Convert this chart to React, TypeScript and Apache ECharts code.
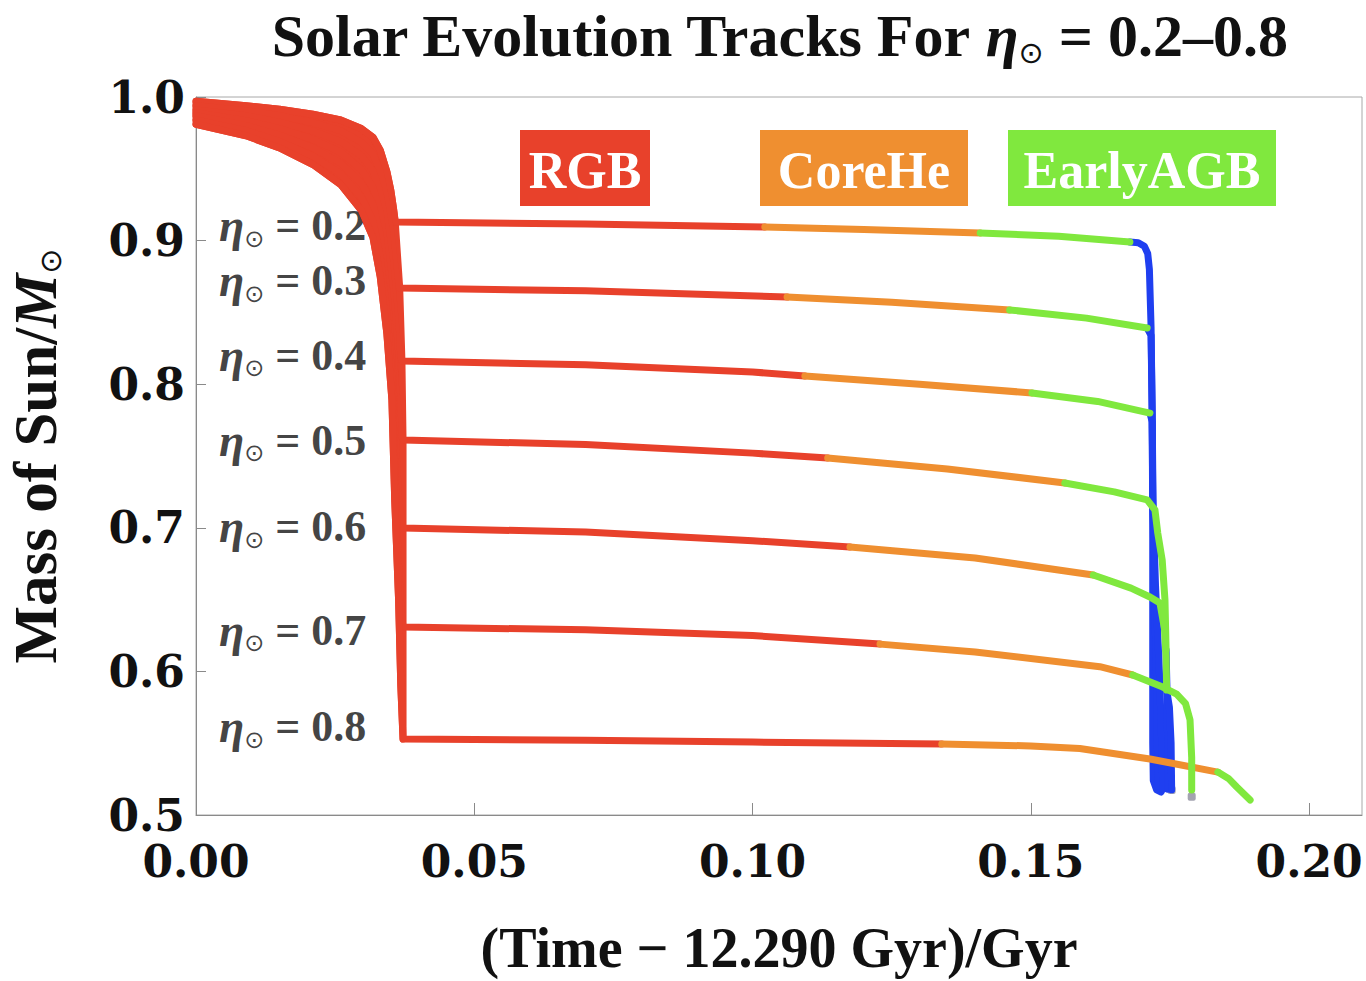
import React, { useEffect, useRef } from 'react';
import * as echarts from 'echarts';

// ---------- data ----------
const ETA = ['0.2', '0.3', '0.4', '0.5', '0.6', '0.7', '0.8'];

// RGB phase (main sequence + red giant branch + post-flash plateau), [time, mass]
const rgb02 = [[0, 0.997], [0.009, 0.994], [0.015, 0.9915], [0.021, 0.988], [0.026, 0.984], [0.0297, 0.978], [0.0318, 0.972], [0.0331, 0.963], [0.0343, 0.948], [0.035, 0.935], [0.0355, 0.922], [0.0358, 0.913], [0.07, 0.9115], [0.1022, 0.9095]];
const rgb03 = [[0, 0.994], [0.009, 0.9905], [0.015, 0.987], [0.021, 0.9822], [0.026, 0.9765], [0.0297, 0.9685], [0.0318, 0.9603], [0.0331, 0.948], [0.0343, 0.925], [0.0352, 0.9], [0.0358, 0.88], [0.0366, 0.867], [0.07, 0.865], [0.1062, 0.8607]];
const rgb04 = [[0, 0.991], [0.009, 0.987], [0.015, 0.9825], [0.021, 0.9763], [0.026, 0.969], [0.0297, 0.959], [0.0318, 0.9487], [0.0331, 0.933], [0.0343, 0.905], [0.0352, 0.87], [0.036, 0.835], [0.0366, 0.822], [0.037, 0.8162], [0.07, 0.8135], [0.1, 0.8085], [0.1094, 0.8057]];
const rgb05 = [[0, 0.989], [0.009, 0.9835], [0.015, 0.978], [0.021, 0.9705], [0.026, 0.9615], [0.0297, 0.9495], [0.0318, 0.937], [0.0331, 0.919], [0.0343, 0.885], [0.0352, 0.845], [0.0358, 0.8], [0.0366, 0.772], [0.0372, 0.7611], [0.07, 0.758], [0.1, 0.752], [0.1135, 0.7486]];
const rgb06 = [[0, 0.987], [0.009, 0.98], [0.015, 0.9735], [0.021, 0.9647], [0.026, 0.954], [0.0297, 0.94], [0.0318, 0.9253], [0.0331, 0.904], [0.0343, 0.865], [0.0352, 0.82], [0.0358, 0.765], [0.0364, 0.72], [0.0372, 0.6999], [0.07, 0.697], [0.1, 0.691], [0.1175, 0.6866]];
const rgb07 = [[0, 0.984], [0.009, 0.9765], [0.015, 0.969], [0.021, 0.9588], [0.026, 0.9465], [0.0297, 0.9305], [0.0318, 0.9137], [0.0331, 0.889], [0.0343, 0.85], [0.0352, 0.805], [0.0357, 0.745], [0.0363, 0.68], [0.0368, 0.645], [0.0372, 0.6309], [0.07, 0.629], [0.1, 0.625], [0.1229, 0.619]];
const rgb08 = [[0, 0.981], [0.009, 0.973], [0.015, 0.9645], [0.021, 0.953], [0.026, 0.939], [0.0297, 0.921], [0.0318, 0.902], [0.0331, 0.875], [0.0343, 0.835], [0.0352, 0.789], [0.0357, 0.72], [0.0364, 0.65], [0.0368, 0.59], [0.0372, 0.5529], [0.07, 0.552], [0.1, 0.5508], [0.134, 0.5494]];
// index (in each rgb array) where the flat post-flash plateau begins
const TIP_INDEX = [11, 11, 12, 12, 12, 13, 13];

// Core helium burning phase
const core02 = [[0.1022, 0.9095], [0.12, 0.9078], [0.1409, 0.9053]];
const core03 = [[0.1062, 0.8607], [0.125, 0.857], [0.1462, 0.8517]];
const core04 = [[0.1094, 0.8057], [0.13, 0.8], [0.1502, 0.7939]];
const core05 = [[0.1135, 0.7486], [0.135, 0.741], [0.1561, 0.7312]];
const core06 = [[0.1175, 0.6866], [0.14, 0.679], [0.1612, 0.6671]];
const core07 = [[0.1229, 0.619], [0.14, 0.6135], [0.1624, 0.6033], [0.1683, 0.5975]];
const core08 = [[0.134, 0.5494], [0.15, 0.5481], [0.1588, 0.5463], [0.1714, 0.539], [0.1836, 0.5299]];

// Early AGB phase
const eagb02 = [[0.1409, 0.9053], [0.155, 0.903], [0.1678, 0.899]];
const eagb03 = [[0.1462, 0.8517], [0.16, 0.846], [0.1709, 0.8391]];
const eagb04 = [[0.1502, 0.7939], [0.162, 0.788], [0.1714, 0.7799]];
const eagb05 = [[0.1561, 0.7312], [0.165, 0.725], [0.1709, 0.7194], [0.1723, 0.7124], [0.1728, 0.6964], [0.1736, 0.6776], [0.1741, 0.6497], [0.1743, 0.6149]];
const eagb06 = [[0.1612, 0.6671], [0.168, 0.658], [0.1714, 0.6518], [0.1732, 0.6476], [0.174, 0.63], [0.1743, 0.61], [0.1744, 0.587]];
const eagb07 = [[0.1683, 0.5975], [0.1737, 0.5891], [0.1762, 0.5842], [0.1778, 0.5775], [0.1786, 0.5662], [0.1789, 0.54], [0.1789, 0.5174]];
const eagb08 = [[0.1836, 0.5299], [0.1855, 0.5255], [0.187, 0.5195], [0.1894, 0.5104]];

// Thermally pulsing AGB (blue)
const tpagb02 = [[0.1678, 0.899], [0.1693, 0.8985], [0.1704, 0.896], [0.171, 0.891], [0.1713, 0.88], [0.1716, 0.84], [0.1718, 0.78], [0.1719, 0.7], [0.1719, 0.62], [0.1719, 0.55], [0.172, 0.524], [0.1726, 0.5175], [0.1734, 0.516]];
const tpagb03 = [[0.1709, 0.8391], [0.1716, 0.834], [0.1718, 0.78], [0.172, 0.7], [0.1723, 0.64], [0.1727, 0.58], [0.1728, 0.52]];
const tpagb04 = [[0.1714, 0.7799], [0.1718, 0.774], [0.1719, 0.72], [0.1724, 0.66], [0.1731, 0.6], [0.1736, 0.54], [0.1737, 0.518]];
const tpagb05 = [[0.1743, 0.6149], [0.1745, 0.58], [0.1746, 0.54], [0.1746, 0.518]];
const tpagb06 = [[0.1744, 0.587], [0.1749, 0.575], [0.1752, 0.55], [0.1753, 0.5175]];

// end points (white dwarf)
const endPoints = [[0.1753, 0.5174], [0.1789, 0.5127]];

// label anchors for the eta annotations
const LABEL_X = 0.0307;
const LABEL_Y = [0.9102, 0.8719, 0.8203, 0.7611, 0.7006, 0.6288, 0.5613];

const X_TICKS = { min: 0, max: 0.2095, interval: 0.05 };
const Y_TICKS = { min: 0.5, max: 1.0, interval: 0.1 };

const RGB = [rgb02, rgb03, rgb04, rgb05, rgb06, rgb07, rgb08];
const CORE = [core02, core03, core04, core05, core06, core07, core08];
const EAGB = [eagb02, eagb03, eagb04, eagb05, eagb06, eagb07, eagb08];
const TPAGB = [tpagb02, tpagb03, tpagb04, tpagb05, tpagb06];

// ---------- styles ----------
const RED = '#e8412b';
const ORANGE = '#ef8f30';
const GREEN = '#80e83e';
const BLUE = '#1f3ff0';
const GREY = '#8c8c9c';
const SERIF = "'Liberation Serif', 'Times New Roman', 'DejaVu Serif', serif";
const TICKFONT = "'DejaVu Serif', 'Liberation Serif', serif";
const SYM = "'DejaVu Sans', 'DejaVu Serif', sans-serif";
const LW = 7;

function lineSeries(name: string, data: number[][], color: string) {
  return {
    type: 'line',
    name,
    data,
    showSymbol: false,
    symbol: 'none',
    smooth: false,
    lineStyle: { color, width: LW, cap: 'round', join: 'round' },
    itemStyle: { color },
    silent: true,
    clip: true,
  };
}

export default function App() {
  const ref = useRef<HTMLDivElement>(null);

  useEffect(() => {
    if (!ref.current) return;
    document.body.style.margin = '0';
    document.body.style.overflow = 'hidden';
    const chart = echarts.init(ref.current, undefined, { renderer: 'svg' });

    // outline of the dense main-sequence/RGB band: upper track, tips, lower track
    const bandOutline: number[][] = [
      ...rgb02.slice(0, TIP_INDEX[0] + 1),
      ...RGB.slice(1, 6).map((t, i) => t[TIP_INDEX[i + 1]]),
      ...rgb08.slice(0, TIP_INDEX[6] + 1).reverse(),
    ];

    const series: any[] = [];
    series.push({
      type: 'custom',
      name: 'band',
      silent: true,
      data: [0],
      renderItem: (params: any, api: any) => ({
        type: 'polygon',
        shape: { points: bandOutline.map((p) => api.coord(p)) },
        style: { fill: RED, stroke: RED, lineWidth: LW, lineJoin: 'round' },
      }),
    });
    TPAGB.forEach((d, i) => series.push(lineSeries('TPAGB ' + ETA[i], d, BLUE)));
    RGB.forEach((d, i) => series.push(lineSeries('RGB ' + ETA[i], d, RED)));
    CORE.forEach((d, i) => series.push(lineSeries('CoreHe ' + ETA[i], d, ORANGE)));
    EAGB.forEach((d, i) => series.push(lineSeries('EarlyAGB ' + ETA[i], d, GREEN)));
    series.push({
      type: 'scatter',
      name: 'end',
      data: endPoints,
      symbol: 'roundRect',
      symbolSize: 8,
      itemStyle: { color: GREY },
      silent: true,
    });
    series.push({
      type: 'scatter',
      name: 'labels',
      data: LABEL_Y.map((y) => [LABEL_X, y]),
      symbolSize: 1,
      itemStyle: { color: 'transparent' },
      silent: true,
      label: {
        show: true,
        position: 'left',
        distance: 0,
        formatter: (p: any) => `{e|η}{s|⊙}{n| = ${ETA[p.dataIndex]}}`,
        rich: {
          e: { fontFamily: SERIF, fontStyle: 'italic', fontWeight: 'bold', fontSize: 46, color: '#111' },
          s: { fontFamily: SYM, fontSize: 24, padding: [26, 0, 0, 0], color: '#111' },
          n: { fontFamily: SERIF, fontWeight: 'bold', fontSize: 44, color: '#111' },
        },
      },
    });

    const legendBoxes = [
      { text: 'RGB', x: 520, w: 130, color: RED },
      { text: 'CoreHe', x: 760, w: 208, color: ORANGE },
      { text: 'EarlyAGB', x: 1008, w: 268, color: GREEN },
    ];
    const graphic: any[] = [];
    legendBoxes.forEach((b) => {
      graphic.push({ type: 'rect', shape: { x: b.x, y: 130, width: b.w, height: 76 }, style: { fill: b.color }, silent: true });
      graphic.push({
        type: 'text',
        x: b.x + b.w / 2,
        y: 170,
        style: { text: b.text, align: 'center', verticalAlign: 'middle', fill: '#fff', fontSize: 52, fontWeight: 'bold', fontFamily: SERIF },
        silent: true,
      });
    });
    graphic.push({
      type: 'text',
      x: 779,
      y: 36,
      style: {
        text: '{a|Solar Evolution Tracks For }{e|η}{s|⊙}{a| = 0.2–0.8}',
        align: 'center',
        verticalAlign: 'middle',
        rich: {
          a: { fontFamily: SERIF, fontWeight: 'bold', fontSize: 60, fill: '#111' },
          e: { fontFamily: SERIF, fontStyle: 'italic', fontWeight: 'bold', fontSize: 60, fill: '#111' },
          s: { fontFamily: SYM, fontSize: 30, padding: [32, 0, 0, 0], fill: '#111' },
        },
      },
      silent: true,
    });

    const axisColor = '#8a8a8a';
    chart.setOption({
      animation: false,
      backgroundColor: '#ffffff',
      grid: {
        left: 196, right: 4, top: 97, bottom: 166,
        show: true, borderColor: '#a8a8a8', borderWidth: 1,
        containLabel: false, outerBoundsMode: 'none',
      },
      xAxis: {
        type: 'value',
        min: X_TICKS.min,
        max: X_TICKS.max,
        interval: X_TICKS.interval,
        name: '(Time − 12.290 Gyr)/Gyr',
        nameLocation: 'middle',
        nameGap: 105,
        nameTextStyle: { fontFamily: SERIF, fontWeight: 'bold', fontSize: 56, color: '#111' },
        axisLine: { show: true, lineStyle: { color: axisColor, width: 1 } },
        axisTick: { show: true, inside: true, length: 12, lineStyle: { color: axisColor } },
        splitLine: { show: false },
        axisLabel: {
          showMaxLabel: false,
          margin: 24,
          fontFamily: TICKFONT,
          fontWeight: 'bold',
          fontSize: 44,
          color: '#111',
          formatter: (v: number) => v.toFixed(2),
        },
      },
      yAxis: {
        type: 'value',
        min: Y_TICKS.min,
        max: Y_TICKS.max,
        interval: Y_TICKS.interval,
        name: '{a|Mass of Sun/}{m|M}{s|⊙}',
        nameLocation: 'middle',
        nameRotate: 90,
        nameGap: 130,
        nameTextStyle: {
          rich: {
            a: { fontFamily: SERIF, fontWeight: 'bold', fontSize: 61, color: '#111' },
            m: { fontFamily: SERIF, fontStyle: 'italic', fontWeight: 'bold', fontSize: 61, color: '#111' },
            s: { fontFamily: SYM, fontSize: 30, padding: [30, 0, 0, 0], color: '#111' },
          },
        },
        axisLine: { show: true, lineStyle: { color: axisColor, width: 1 } },
        axisTick: { show: true, inside: true, length: 10, lineStyle: { color: axisColor } },
        splitLine: { show: false },
        axisLabel: {
          margin: 11,
          fontFamily: TICKFONT,
          fontWeight: 'bold',
          fontSize: 44,
          color: '#111',
          formatter: (v: number) => v.toFixed(1),
        },
      },
      tooltip: { show: false },
      graphic,
      series,
    });

    return () => chart.dispose();
  }, []);

  return <div ref={ref} style={{ width: 1366, height: 981, background: '#fff' }} />;
}
